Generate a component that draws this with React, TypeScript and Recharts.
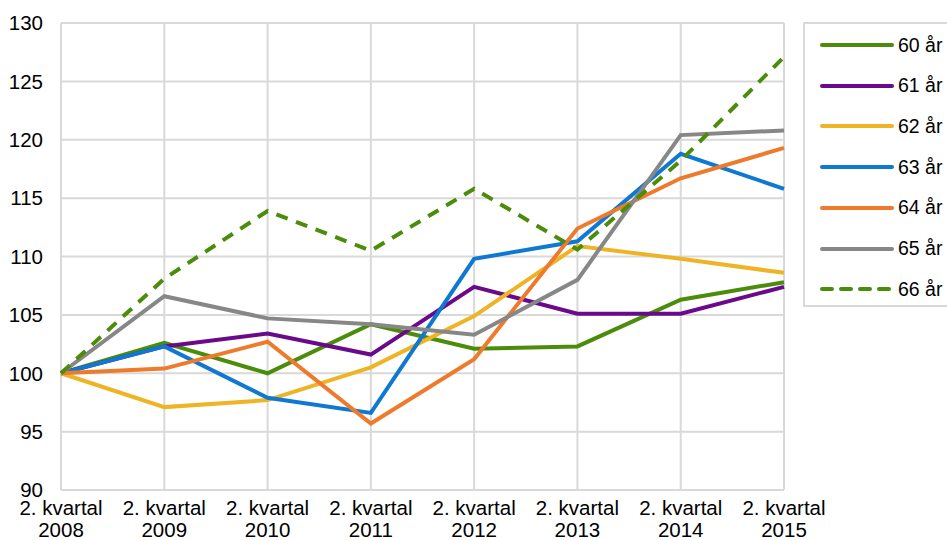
import { CartesianGrid, Line, LineChart, XAxis, YAxis } from "recharts";

const years = ["2008", "2009", "2010", "2011", "2012", "2013", "2014", "2015"];
const quarterLabel = "2. kvartal";

const age60 = [100, 102.6, 100.0, 104.2, 102.1, 102.3, 106.3, 107.8];
const age61 = [100, 102.3, 103.4, 101.6, 107.4, 105.1, 105.1, 107.4];
const age62 = [100, 97.1, 97.7, 100.5, 104.9, 110.9, 109.8, 108.6];
const age63 = [100, 102.3, 97.9, 96.6, 109.8, 111.3, 118.8, 115.8];
const age64 = [100, 100.4, 102.7, 95.7, 101.2, 112.4, 116.7, 119.3];
const age65 = [100, 106.6, 104.7, 104.2, 103.3, 108.0, 120.4, 120.8];
const age66 = [100, 108.1, 113.9, 110.5, 115.8, 110.6, 118.2, 127.1];

const yTicks = [90, 95, 100, 105, 110, 115, 120, 125, 130];

const series = [
  { key: "a60", name: "60 år", values: age60, color: "#4b8c0b", dashed: false },
  { key: "a61", name: "61 år", values: age61, color: "#6a0a8a", dashed: false },
  { key: "a62", name: "62 år", values: age62, color: "#eeb425", dashed: false },
  { key: "a63", name: "63 år", values: age63, color: "#0f78d2", dashed: false },
  { key: "a64", name: "64 år", values: age64, color: "#ee7a2c", dashed: false },
  { key: "a65", name: "65 år", values: age65, color: "#878787", dashed: false },
  { key: "a66", name: "66 år", values: age66, color: "#4b8c0b", dashed: true },
];

const data = years.map((year, i) => {
  const row: Record<string, string | number> = { year };
  series.forEach((s) => {
    row[s.key] = s.values[i];
  });
  return row;
});

const font = "'Liberation Sans', Arial, sans-serif";

function QuarterTick(props: any) {
  const { x, y, payload } = props;
  return (
    <text x={x} y={y} textAnchor="middle" fill="#000" fontSize={20.5} fontFamily={font}>
      <tspan x={x} dy={17}>{quarterLabel}</tspan>
      <tspan x={x} dy={22}>{payload.value}</tspan>
    </text>
  );
}

function LegendBox() {
  return (
    <div
      style={{
        position: "absolute",
        left: 803,
        top: 22,
        width: 160,
        height: 285,
        border: "2px solid #d9d9d9",
        boxSizing: "border-box",
        fontFamily: font,
        fontSize: 19.5,
        background: "#fff",
      }}
    >
      {series.map((s, i) => (
        <div
          key={s.key}
          style={{ position: "absolute", left: 15, top: 21 + i * 40.7 - 11, height: 22, display: "flex", alignItems: "center", whiteSpace: "nowrap" }}
        >
          <svg width={74} height={10} style={{ marginRight: 4 }}>
            <line
              x1={2}
              y1={5}
              x2={72}
              y2={5}
              stroke={s.color}
              strokeWidth={4}
              strokeLinecap="round"
              strokeDasharray={s.dashed ? "10 9" : undefined}
            />
          </svg>
          <span>{s.name}</span>
        </div>
      ))}
    </div>
  );
}

export default function App() {
  return (
    <div style={{ position: "absolute", left: 0, top: 0, width: 947, height: 540, background: "#fff", overflow: "hidden" }}>
      <LineChart width={947} height={540} data={data} margin={{ top: 23, right: 163, bottom: 0, left: 0 }}>
        <CartesianGrid stroke="#d9d9d9" strokeWidth={2} vertical={true} horizontal={true} />
        <XAxis
          dataKey="year"
          axisLine={false}
          tickLine={false}
          height={50}
          interval={0}
          tick={<QuarterTick />}
        />
        <YAxis
          domain={[90, 130]}
          ticks={yTicks}
          axisLine={false}
          tickLine={false}
          width={61}
          tickMargin={12}
          tick={{ fill: "#000", fontSize: 20.5, fontFamily: font }}
        />
        {series.map((s) => (
          <Line
            key={s.key}
            type="linear"
            dataKey={s.key}
            name={s.name}
            stroke={s.color}
            strokeWidth={4}
            strokeDasharray={s.dashed ? "12 9" : undefined}
            dot={false}
            activeDot={false}
            isAnimationActive={false}
          />
        ))}
      </LineChart>
      <LegendBox />
    </div>
  );
}
